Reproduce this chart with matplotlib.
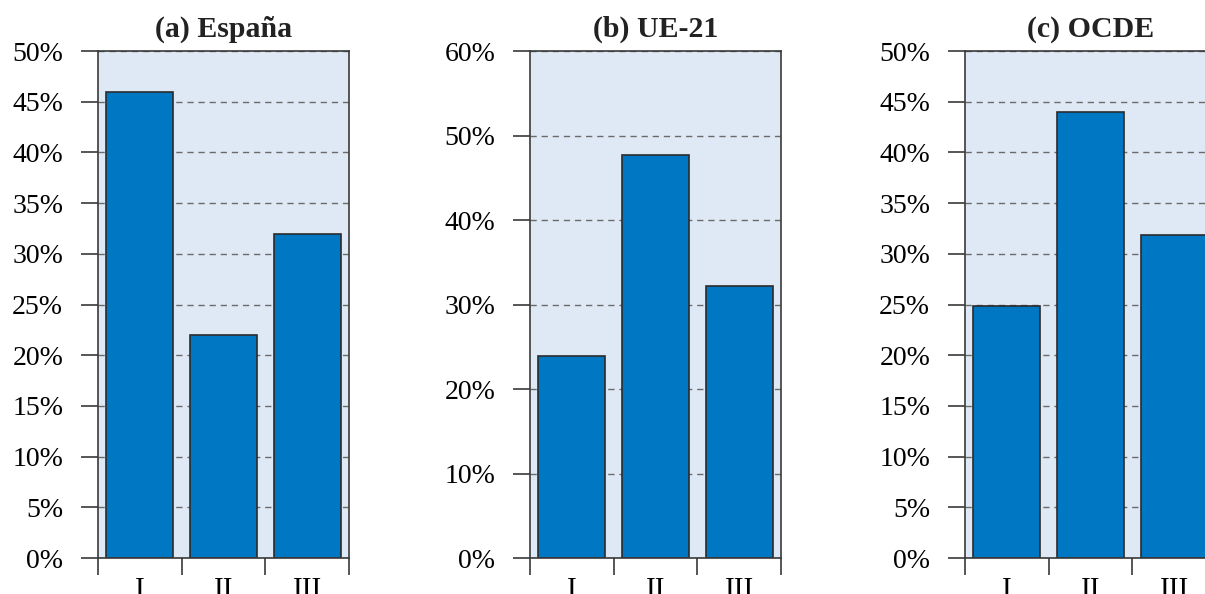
import numpy as np
import matplotlib
matplotlib.use('Agg')
import matplotlib.pyplot as plt
from matplotlib.ticker import FuncFormatter

plt.rcParams['font.family'] = ['Liberation Serif', 'DejaVu Serif']

# share of each group, in percent
categories = ['I', 'II', 'III']
titles = ['(a) España', '(b) UE-21', '(c) OCDE']
espana = [46.0, 22.0, 32.0]
ue21 = [23.9, 47.7, 32.2]
ocde = [24.9, 44.0, 31.9]
ymax = [50, 60, 50]
ystep = [5, 10, 5]

bar_color = '#0077c2'
edge_color = '#2b2b2b'
panel_color = '#dfe8f5'
spine_color = '#3a3a3a'

fig = plt.figure(figsize=(12.05, 5.94), dpi=100)

# axes positions in figure fractions
lefts = [0.0813, 0.4398, 0.8008]
bottom = 0.0606
width = 0.2083
height = 0.8535

for left, title, vals, top, step in zip(lefts, titles, [espana, ue21, ocde], ymax, ystep):
    ax = fig.add_axes([left, bottom, width, height])
    ax.set_facecolor(panel_color)
    x = np.arange(len(categories))
    ax.bar(x, vals, width=0.8, color=bar_color, edgecolor=edge_color,
           linewidth=1.2, zorder=3)

    ax.set_xlim(-0.5, len(categories) - 0.5)
    ax.set_ylim(0, top)
    ax.set_yticks(np.arange(0, top + 0.1, step))
    ax.yaxis.set_major_formatter(FuncFormatter(lambda v, p: '%d%%' % v))

    # ticks on category boundaries, labels centred between them
    ax.set_xticks(np.arange(-0.5, len(categories), 1.0))
    ax.set_xticklabels([])
    ax.set_xticks(x, minor=True)
    ax.set_xticklabels(categories, minor=True, fontsize=21)
    ax.tick_params(axis='x', which='major', length=12, width=1.2,
                   color=spine_color, direction='out')
    ax.tick_params(axis='x', which='minor', length=0, pad=14)
    ax.tick_params(axis='y', length=12, width=1.2, color=spine_color,
                   direction='out', labelsize=20, pad=13)

    ax.grid(axis='y', linestyle=(0, (4.5, 3.5)), color='#6b6b6b',
            linewidth=1.0, zorder=1)
    for s in ax.spines.values():
        s.set_color(spine_color)
        s.set_linewidth(1.2)
        s.set_zorder(4)

    ax.set_title(title, fontsize=21.5, fontweight='bold', pad=10,
                 color='#222222')

fig.savefig('out.png', dpi=100)
